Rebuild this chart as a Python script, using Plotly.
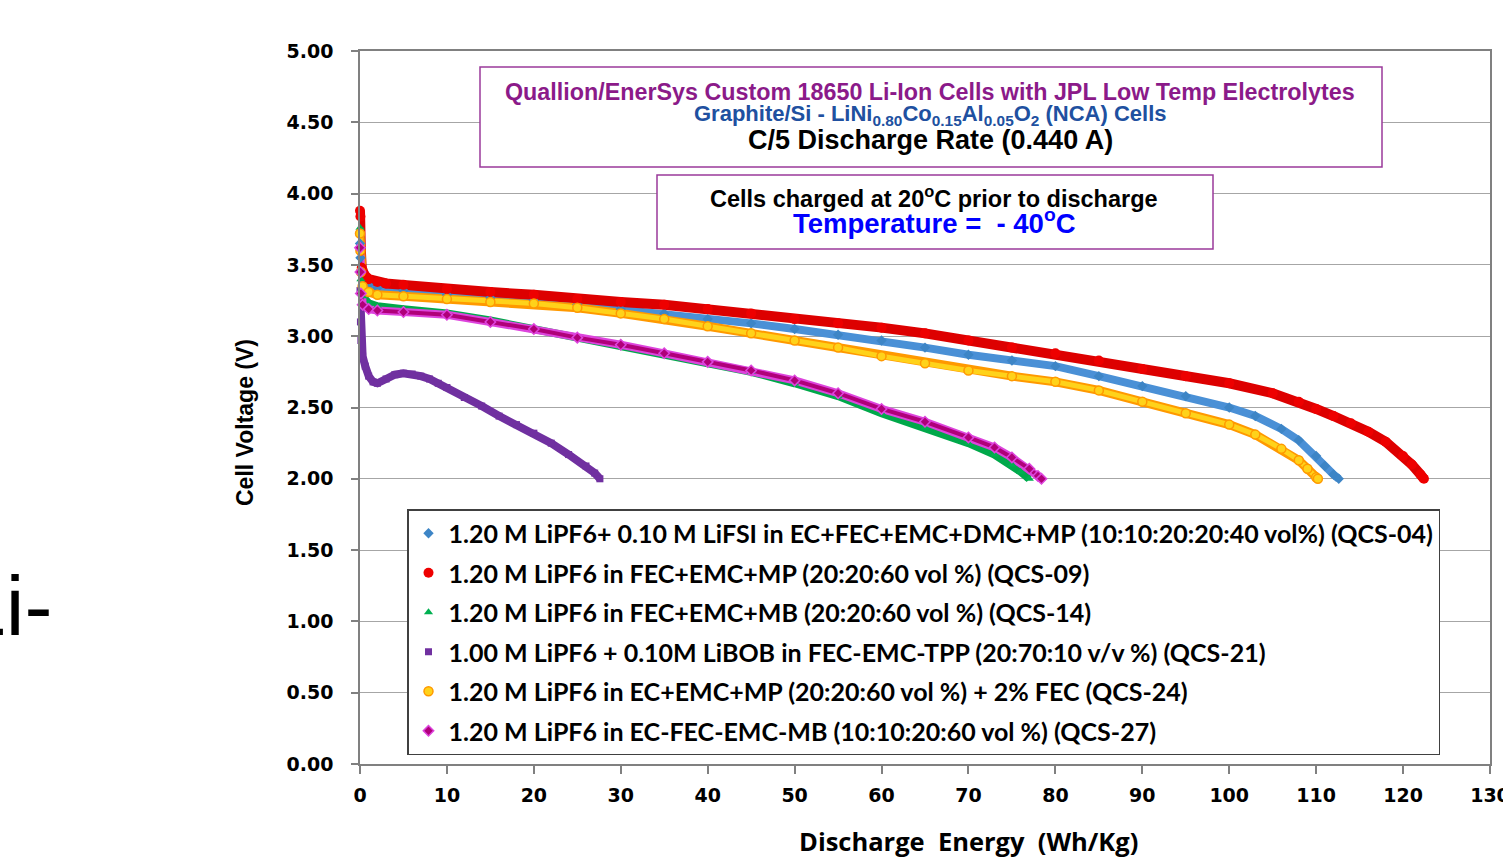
import plotly.graph_objects as go

# ---------------- data ----------------
e_qcs04 = [0, 0.05, 0.1, 0.3, 1, 2, 5, 10, 15, 20, 25, 30, 35, 40, 45, 50, 55, 60, 65, 70,
           75, 80, 85, 90, 95, 100, 103, 106, 108, 110, 111, 112, 112.6]
v_qcs04 = [3.65, 3.55, 3.45, 3.39, 3.36, 3.34, 3.32, 3.29, 3.27, 3.25, 3.22, 3.19, 3.16, 3.12, 3.09,
           3.05, 3.01, 2.97, 2.92, 2.87, 2.83, 2.79, 2.72, 2.65, 2.58, 2.50, 2.44, 2.35, 2.27, 2.16,
           2.09, 2.03, 2.00]

e_qcs09 = [0, 0.05, 0.1, 0.2, 0.5, 1, 2, 3, 5, 10, 15, 20, 25, 30, 35, 40, 45, 50, 55, 60, 65,
           70, 75, 80, 85, 90, 95, 100, 105, 108, 110, 112, 114, 116, 118, 120, 121, 122, 122.4]
v_qcs09 = [3.88, 3.84, 3.60, 3.48, 3.43, 3.40, 3.38, 3.37, 3.36, 3.33, 3.31, 3.29, 3.26, 3.24,
           3.22, 3.19, 3.16, 3.12, 3.09, 3.06, 3.02, 2.97, 2.92, 2.88, 2.83, 2.77, 2.72, 2.67,
           2.60, 2.54, 2.49, 2.44, 2.39, 2.33, 2.26, 2.16, 2.10, 2.03, 2.00]

e_qcs14 = [0, 0.05, 0.1, 0.3, 1, 2, 5, 10, 15, 20, 25, 30, 35, 40, 45, 50, 55, 60, 65, 70, 73,
           75, 76, 77]
v_qcs14 = [3.76, 3.60, 3.40, 3.28, 3.23, 3.21, 3.19, 3.16, 3.11, 3.05, 2.99, 2.94, 2.88, 2.82,
           2.75, 2.67, 2.58, 2.46, 2.36, 2.25, 2.17, 2.10, 2.05, 2.00]

e_qcs21 = [0, 0.05, 0.1, 0.3, 0.6, 1, 1.5, 2, 3, 4, 5, 6, 7, 8, 9, 10, 12, 14, 16, 18, 20, 22,
           24, 26, 27, 27.6]
v_qcs21 = [3.32, 3.10, 2.97, 2.86, 2.79, 2.72, 2.68, 2.67, 2.70, 2.73, 2.74, 2.735, 2.72, 2.70,
           2.67, 2.64, 2.57, 2.51, 2.44, 2.38, 2.32, 2.25, 2.17, 2.09, 2.04, 2.00]

e_qcs24 = [0, 0.05, 0.1, 0.3, 1, 2, 5, 10, 15, 20, 25, 30, 35, 40, 45, 50, 55, 60, 65, 70, 75,
           80, 85, 90, 95, 100, 103, 106, 108, 109, 110, 110.2]
v_qcs24 = [3.72, 3.60, 3.45, 3.35, 3.31, 3.29, 3.28, 3.26, 3.24, 3.23, 3.20, 3.16, 3.12, 3.07,
           3.02, 2.97, 2.92, 2.86, 2.81, 2.76, 2.72, 2.68, 2.62, 2.54, 2.46, 2.38, 2.31, 2.21,
           2.13, 2.07, 2.01, 2.00]

e_qcs27 = [0, 0.05, 0.1, 0.3, 1, 2, 5, 10, 15, 20, 25, 30, 35, 40, 45, 50, 55, 60, 65, 70, 73,
           75, 77, 78, 78.4]
v_qcs27 = [3.62, 3.45, 3.30, 3.22, 3.19, 3.18, 3.17, 3.15, 3.10, 3.05, 2.99, 2.94, 2.88, 2.82,
           2.76, 2.69, 2.60, 2.49, 2.40, 2.29, 2.22, 2.15, 2.07, 2.02, 2.00]

names = [
    "1.20 M LiPF6+ 0.10 M LiFSI in EC+FEC+EMC+DMC+MP (10:10:20:20:40 vol%) (QCS-04)",
    "1.20 M LiPF6 in FEC+EMC+MP (20:20:60 vol %) (QCS-09)",
    "1.20 M LiPF6 in FEC+EMC+MB (20:20:60 vol %) (QCS-14)",
    "1.00 M LiPF6 + 0.10M LiBOB in FEC-EMC-TPP (20:70:10 v/v %) (QCS-21)",
    "1.20 M LiPF6 in EC+EMC+MP (20:20:60 vol %) + 2% FEC (QCS-24)",
    "1.20 M LiPF6 in EC-FEC-EMC-MB (10:10:20:60 vol %) (QCS-27)",
]

x_ticks = list(range(0, 131, 10))
y_ticks = [i * 0.5 for i in range(11)]

# ---------------- styles ----------------
series = [
    # x, y, name, symbol, fill, edge, outer line width, inner line width, marker size
    (e_qcs04, v_qcs04, names[0], "diamond", "#3d85c6", "#4a90d6", 8, 0, 8),
    (e_qcs09, v_qcs09, names[1], "circle", "#ee0000", "#dd0000", 10, 0, 10),
    (e_qcs14, v_qcs14, names[2], "triangle-up", "#00b050", "#00a84a", 8, 0, 8),
    (e_qcs21, v_qcs21, names[3], "square", "#7030a0", "#7030a0", 8, 0, 7),
    (e_qcs24, v_qcs24, names[4], "circle", "#ffd21a", "#ff9900", 9, 5, 9),
    (e_qcs27, v_qcs27, names[5], "diamond", "#b0007a", "#dd44dd", 8, 4, 8),
]

W, H = 1503, 857
L, R, T, B = 360, 13, 51, 93
PW, PH = W - L - R, H - T - B


def px(x):
    return (x - L) / PW


def py(y):
    return (H - B - y) / PH


fig = go.Figure()

# thick bands (outer edge + inner fill)
for x, y, name, sym, fill, edge, ow, iw, ms in series:
    fig.add_trace(go.Scatter(x=x, y=y, mode="lines", showlegend=False, hoverinfo="skip",
                             line=dict(color=edge, width=ow), cliponaxis=False))
    if iw:
        fig.add_trace(go.Scatter(x=x, y=y, mode="lines", showlegend=False, hoverinfo="skip",
                                 line=dict(color=fill, width=iw), cliponaxis=False))

# markers (also legend entries)
for i, (x, y, name, sym, fill, edge, ow, iw, ms) in enumerate(series):
    fig.add_trace(go.Scatter(
        x=x, y=y, mode="markers", name=name, legendgroup=str(i),
        marker=dict(symbol=sym, size=ms, color=fill, line=dict(color=edge, width=1.5 if iw else 0)),
        cliponaxis=False))

axis_line = "#808080"
tick_font = dict(family="DejaVu Sans", size=19, color="#000000", weight="bold")

fig.update_xaxes(range=[0, 130], tickvals=x_ticks, ticktext=[str(v) for v in x_ticks],
                 showgrid=False, zeroline=False, showline=True, linecolor=axis_line, linewidth=1.5,
                 mirror=True, ticks="outside", ticklen=8, tickcolor=axis_line, tickwidth=1.5,
                 tickfont=tick_font, ticklabelstandoff=5, ticklabeloverflow="allow",
                 automargin=False)
fig.update_yaxes(range=[0, 5], tickvals=y_ticks, ticktext=["%.2f" % v for v in y_ticks],
                 showgrid=True, gridcolor="#a6a6a6", gridwidth=1.3, zeroline=False,
                 showline=True, linecolor=axis_line, linewidth=1.5, mirror=True,
                 ticks="outside", ticklen=7, tickcolor=axis_line, tickwidth=1.5,
                 tickfont=tick_font, ticklabelstandoff=14, automargin=False)

shapes = [
    dict(type="rect", xref="paper", yref="paper", x0=px(480), x1=px(1382), y0=py(167), y1=py(67),
         line=dict(color="#9a3a9a", width=1.5), fillcolor="white", layer="above"),
    dict(type="rect", xref="paper", yref="paper", x0=px(657), x1=px(1213), y0=py(249), y1=py(175),
         line=dict(color="#9a3a9a", width=1.5), fillcolor="white", layer="above"),
]

title_font = "Liberation Sans"
annotations = [
    dict(x=px(930), y=py(92), text="<b>Quallion/EnerSys Custom 18650 Li-Ion Cells with JPL Low Temp Electrolytes</b>",
         font=dict(family=title_font, size=23.3, color="#8b1a89")),
    dict(x=px(930), y=py(115),
         text="<b>Graphite/Si - LiNi<sub>0.80</sub>Co<sub>0.15</sub>Al<sub>0.05</sub>O<sub>2</sub> (NCA) Cells</b>",
         font=dict(family=title_font, size=22, color="#2050a0")),
    dict(x=px(930), y=py(140), text="<b>C/5 Discharge Rate (0.440 A)</b>",
         font=dict(family=title_font, size=27, color="#000000")),
    dict(x=px(934), y=py(197), text="<b>Cells charged at 20<sup>o</sup>C prior to discharge</b>",
         font=dict(family=title_font, size=23.5, color="#000000")),
    dict(x=px(934), y=py(222), text="<b>Temperature =\u00a0\u00a0- 40<sup>o</sup>C</b>",
         font=dict(family=title_font, size=27.5, color="#0000ff")),
    dict(x=px(968), y=py(841), text="<b>Discharge\u00a0 Energy\u00a0 (Wh/Kg)</b>",
         font=dict(family="Open Sans", size=25.5, color="#000000")),
    dict(x=px(245), y=py(423), text="<b>Cell Voltage (V)</b>", textangle=-90,
         font=dict(family="Liberation Sans", size=23, color="#000000")),
    dict(x=px(54), y=py(606), xanchor="right", text="Li-",
         font=dict(family="Liberation Sans", size=84, color="#000000")),
]
for a in annotations:
    a.setdefault("xref", "paper")
    a.setdefault("yref", "paper")
    a.setdefault("xanchor", "center")
    a.setdefault("yanchor", "middle")
    a.setdefault("showarrow", False)

fig.update_layout(
    width=W, height=H, margin=dict(l=L, r=R, t=T, b=B, pad=0, autoexpand=False),
    paper_bgcolor="white", plot_bgcolor="white",
    shapes=shapes, annotations=annotations,
    legend=dict(x=px(407), y=py(509), xanchor="left", yanchor="top",
                bgcolor="white", bordercolor="#404040", borderwidth=1.5,
                font=dict(family="Lato", size=25, color="#000000", weight="bold"),
                tracegroupgap=4),
)

fig.write_html("out.html")
